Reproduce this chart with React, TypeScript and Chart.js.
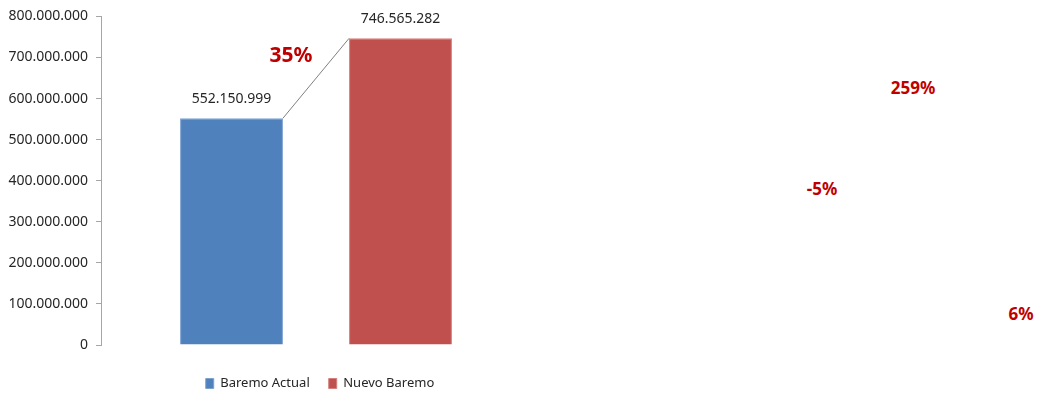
import React, { useEffect, useRef } from "react";
import { Chart, registerables } from "chart.js";

Chart.register(...registerables);

// ---- data ----
const categories = [""];
const seriesNames = ["Baremo Actual", "Nuevo Baremo"];
const baremoActual = [552150999];
const nuevoBaremo = [746565282];
const yTickValues = [0, 100000000, 200000000, 300000000, 400000000, 500000000, 600000000, 700000000, 800000000];
const sideNotes = ["259%", "-5%", "6%"];

// ---- styles ----
const seriesColors = ["#4f81bd", "#c0504d"];
const seriesBorders = ["#7fa3d1", "#d47f7c"];
const noteColor = "#c00000";
const sideNotePlaces = [
  { left: 913, top: 87 },
  { left: 822, top: 188 },
  { left: 1021, top: 313 },
];
const FONT = "'Noto Sans', 'DejaVu Sans', sans-serif";

function fmt(n: number): string {
  return Math.round(n).toString().replace(/\B(?=(\d{3})+(?!\d))/g, ".");
}

const overlayPlugin = {
  id: "overlay",
  afterDatasetsDraw(chart: any) {
    const ctx = chart.ctx;
    const m0 = chart.getDatasetMeta(0);
    const m1 = chart.getDatasetMeta(1);
    if (!m0.data.length || !m1.data.length) return;
    const b0: any = m0.data[0];
    const b1: any = m1.data[0];
    ctx.save();
    // connector line
    ctx.strokeStyle = "#7f7f7f";
    ctx.lineWidth = 1;
    ctx.beginPath();
    ctx.moveTo(b0.x + b0.width / 2, b0.y);
    ctx.lineTo(b1.x - b1.width / 2, b1.y);
    ctx.stroke();
    // value labels
    ctx.fillStyle = "#262626";
    ctx.font = `14px ${FONT}`;
    ctx.textAlign = "center";
    ctx.textBaseline = "middle";
    ctx.fillText(fmt(baremoActual[0]), b0.x, b0.y - 19);
    ctx.fillText(fmt(nuevoBaremo[0]), b1.x, b1.y - 19);
    // growth label
    const pct = Math.round((nuevoBaremo[0] / baremoActual[0] - 1) * 100);
    const mx = (b0.x + b0.width / 2 + b1.x - b1.width / 2) / 2;
    const my = (b0.y + b1.y) / 2;
    ctx.fillStyle = noteColor;
    ctx.font = `bold 21px ${FONT}`;
    ctx.fillText(`${pct}%`, mx - 25, my - 22);
    ctx.restore();
  },
};

export default function App() {
  const ref = useRef<HTMLCanvasElement | null>(null);

  useEffect(() => {
    if (!ref.current) return;
    const chart = new Chart(ref.current, {
      type: "bar",
      data: {
        labels: categories,
        datasets: [
          {
            label: seriesNames[0],
            data: baremoActual,
            backgroundColor: seriesColors[0],
            borderColor: seriesBorders[0],
            borderWidth: 1,
            categoryPercentage: 0.786,
            barPercentage: 0.609,
          },
          {
            label: seriesNames[1],
            data: nuevoBaremo,
            backgroundColor: seriesColors[1],
            borderColor: seriesBorders[1],
            borderWidth: 1,
            categoryPercentage: 0.786,
            barPercentage: 0.609,
          },
        ],
      },
      options: {
        responsive: false,
        animation: false,
        layout: { padding: { top: 15, left: 0, right: 0, bottom: -2 } },
        font: { family: FONT },
        plugins: {
          tooltip: { enabled: false },
          legend: {
            position: "bottom",
            title: { display: true, text: "", padding: { top: 1, bottom: 0 }, font: { size: 10, family: FONT } },
            labels: {
              boxWidth: 8,
              boxHeight: 10,
              padding: 19,
              color: "#262626",
              font: { size: 13, family: FONT },
            },
          },
        },
        scales: {
          x: { display: false },
          y: {
            min: 0,
            max: 800000000,
            afterBuildTicks: (s: any) => {
              s.ticks = yTickValues.map((v) => ({ value: v }));
            },
            afterFit: (s: any) => {
              s.width = 101;
            },
            grid: { drawOnChartArea: false, drawTicks: true, tickLength: 5, color: "#a6a6a6" },
            border: { display: true, color: "#a6a6a6" },
            ticks: {
              padding: 8,
              color: "#262626",
              font: { size: 14, family: FONT },
              callback: (v: any) => fmt(Number(v)),
            },
          },
          yRight: {
            position: "right",
            display: true,
            grid: { display: false },
            border: { display: false },
            ticks: { display: false },
            afterFit: (s: any) => {
              s.width = 109;
            },
          },
        },
      },
      plugins: [overlayPlugin],
    } as any);
    return () => chart.destroy();
  }, []);

  return (
    <div style={{ position: "absolute", left: 0, top: 0, width: 1043, height: 398, background: "#fff" }}>
      <canvas ref={ref} width={640} height={398} style={{ position: "absolute", left: 0, top: 0 }} />
      {sideNotes.map((t, i) => (
        <div
          key={t}
          style={{
            position: "absolute",
            left: sideNotePlaces[i].left,
            top: sideNotePlaces[i].top,
            transform: "translate(-50%, -50%)",
            color: noteColor,
            fontFamily: FONT,
            fontWeight: "bold",
            fontSize: 17,
            lineHeight: 1,
            whiteSpace: "nowrap",
          }}
        >
          {t}
        </div>
      ))}
    </div>
  );
}
